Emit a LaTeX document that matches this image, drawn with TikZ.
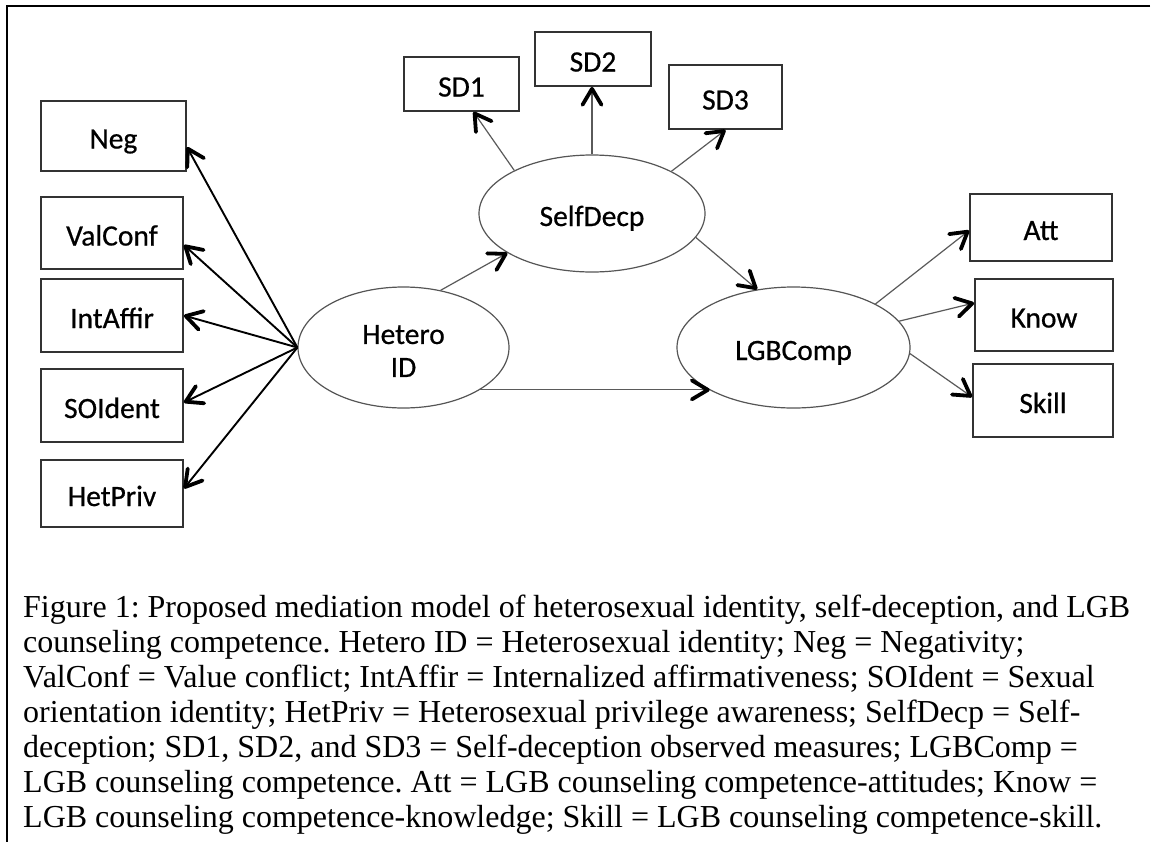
\documentclass[tikz,border=0pt]{standalone}
\usepackage{fontspec}
\setmainfont{Liberation Serif}
\newfontfamily\lblfont[FakeBold=0.6]{Carlito}
\usetikzlibrary{arrows.meta,shapes.geometric}
\definecolor{boxgray}{HTML}{333333}
\definecolor{ellgray}{HTML}{555555}
\definecolor{lngray}{HTML}{5A5A5A}
\frenchspacing
\begin{document}
\begin{tikzpicture}[x=1pt,y=-1pt,
  tip/.style={-{Straight Barb[length=16pt,width=19pt,line width=3.8pt,round,color=black]}},
  lbl/.style={inner sep=0pt, font=\lblfont\fontsize{29.5}{33}\selectfont},
  box/.style={lbl, draw=boxgray, line width=1.8pt, text height=25pt, text depth=0pt},
  latent/.style={lbl, ellipse, draw=ellgray, line width=1.2pt, text height=25pt, text depth=0pt},
  fan/.style={tip, line width=1.9pt, draw=black},
  thin/.style={tip, line width=1.2pt, draw=lngray},
  capline/.style={anchor=base west, inner sep=0pt, font=\fontsize{32}{35}\selectfont}
]
\useasboundingbox (0,0) rectangle (1151,841);
\fill[white] (0,0) rectangle (1151,841);
% frame
\draw[line width=2.5pt] (1150,6) -- (7,6) -- (7,845);

% observed indicators (left)
\node[box, minimum width=145pt, minimum height=70pt] (neg) at (113.5,136) {Neg};
\node[box, minimum width=142pt, minimum height=72pt] (valconf) at (112,233) {ValConf};
\node[box, minimum width=142pt, minimum height=73pt] (intaffir) at (112,315.5) {IntAffir};
\node[box, minimum width=142pt, minimum height=73pt] (soident) at (112,405.5) {SOIdent};
\node[box, minimum width=142pt, minimum height=67pt] (hetpriv) at (112,493.5) {HetPriv};

% self-deception indicators
\node[box, minimum width=115pt, minimum height=54pt] (sd1) at (461.5,84) {SD1};
\node[box, minimum width=116pt, minimum height=54pt] (sd2) at (593,59) {SD2};
\node[box, minimum width=113pt, minimum height=64pt] (sd3) at (725.5,97) {SD3};

% competence indicators
\node[box, minimum width=142pt, minimum height=67pt] (att) at (1041,227.5) {Att};
\node[box, minimum width=138pt, minimum height=72pt] (know) at (1044,315) {Know};
\node[box, minimum width=140pt, minimum height=73pt] (skill) at (1043,400.5) {Skill};

% latent variables
\node[latent, minimum width=211pt, minimum height=121pt] (hetero) at (403.5,347.5) {};
\node[lbl, align=center] (heterotxt) at ([yshift=-3.5pt]hetero.center) {Hetero\\ID};
\node[latent, minimum width=226pt, minimum height=117pt] (selfdecp) at (592,213.5) {SelfDecp};
\node[latent, minimum width=233pt, minimum height=121pt] (lgb) at (793.5,347.5) {LGBComp};

% fan from Hetero ID
\draw[fan] (hetero.west) -- ([yshift=-11pt]neg.east);
\draw[fan] (hetero.west) -- ([yshift=-12pt]valconf.east);
\draw[fan] (hetero.west) -- (intaffir.east);
\draw[fan] (hetero.west) -- ([yshift=3pt]soident.east);
\draw[fan] (hetero.west) -- ([yshift=5pt]hetpriv.east);

% structural paths
\draw[thin] (hetero.57.8) -- (selfdecp.205.7);
\draw[thin] (hetero.-29.5) -- (lgb.207.1 |- hetero.-29.5);
\draw[thin] (selfdecp.-13.1) -- (lgb.122.3);

% self-deception indicators
\draw[thin] (selfdecp.151.2) -- ([xshift=12pt]sd1.south);
\draw[thin] (selfdecp.north) -- (selfdecp.north |- sd2.south);
\draw[thin] (selfdecp.28.2) -- (sd3.south);

% competence indicators
\draw[thin] (lgb.28.6) -- ([yshift=-3pt]att.west);
\draw[thin] (lgb.14.2) -- ([yshift=12pt]know.west);
\draw[thin] (lgb.-3) -- ([yshift=3.5pt]skill.west);

% caption
\node[capline] (c1) at (23,617) {Figure 1: Proposed mediation model of heterosexual identity, self-deception, and LGB};
\node[capline] (c2) at (23,652) {counseling competence. Hetero ID = Heterosexual identity; Neg = Negativity;};
\node[capline] (c3) at (23,687) {ValConf = Value conflict; IntAffir = Internalized affirmativeness; SOIdent = Sexual};
\node[capline] (c4) at (23,722) {orientation identity; HetPriv = Heterosexual privilege awareness; SelfDecp = Self-};
\node[capline] (c5) at (23,757) {deception; SD1, SD2, and SD3 = Self-deception observed measures; LGBComp =};
\node[capline] (c6) at (23,792) {LGB counseling competence. Att = LGB counseling competence-attitudes; Know =};
\node[capline] (c7) at (23,827) {LGB counseling competence-knowledge; Skill = LGB counseling competence-skill.};
\end{tikzpicture}
\end{document}
